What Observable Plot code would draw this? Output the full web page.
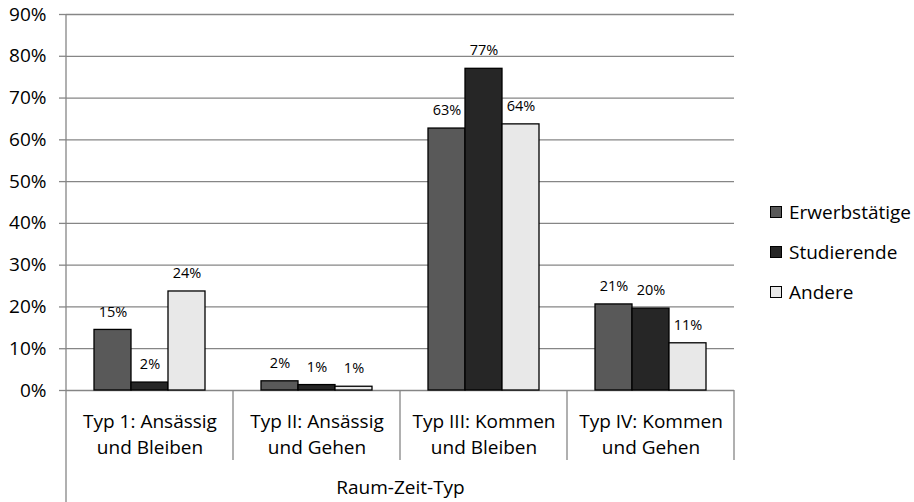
<!DOCTYPE html>
<html><head><meta charset="utf-8">
<script src="https://cdn.jsdelivr.net/npm/d3@7"></script>
<script src="https://cdn.jsdelivr.net/npm/@observablehq/plot@0.6"></script>
<style>
body{margin:0;background:#fff;font-family:"Open Sans", sans-serif;}
#wrap{position:relative;width:914px;height:502px;}
#legend{position:absolute;left:770px;top:192px;font-size:19px;color:#000;}
.item{display:flex;align-items:center;height:40px;}
.sw{width:10px;height:10px;border:1px solid #000;margin-right:7px;}
</style></head><body><div id="wrap"></div>
<script>
const categories = ["Typ 1: Ansässig\nund Bleiben", "Typ II: Ansässig\nund Gehen", "Typ III: Kommen\nund Bleiben", "Typ IV: Kommen\nund Gehen"];
const series = ["Erwerbstätige", "Studierende", "Andere"];
const erwerbstaetige = [14.5, 2.2, 62.7, 20.6];
const studierende = [1.9, 1.3, 77.0, 19.6];
const andere = [23.7, 0.9, 63.7, 11.3];
const colors = ["#595959", "#262626", "#e8e8e8"];
const yTicks = [0, 10, 20, 30, 40, 50, 60, 70, 80, 90];

const values = [erwerbstaetige, studierende, andere];
const rows = [];
categories.forEach((c, i) => series.forEach((s, j) => rows.push({cat: c, series: s, value: values[j][i]})));

const plot = Plot.plot({
  width: 914, height: 502,
  marginLeft: 65, marginRight: 179, marginTop: 14, marginBottom: 112,
  style: {fontFamily: "'Open Sans', sans-serif", fontSize: "19px", color: "#000", background: "white"},
  fx: {domain: categories, padding: 0, label: null},
  x: {domain: series, paddingInner: 0, paddingOuter: 0.74, axis: null},
  y: {domain: [0, 90], axis: null},
  color: {domain: series, range: colors},
  marks: [
    Plot.gridY(yTicks, {stroke: "#868686", strokeOpacity: 1, strokeWidth: 1.3}),
    Plot.axisY(yTicks, {tickFormat: d => d + "%", tickSize: 7, tickPadding: 13, stroke: "#868686", strokeWidth: 1.3, fill: "#000", fontSize: 19, label: null}),
    Plot.barY(rows, {fx: "cat", x: "series", y: "value", fill: "series", stroke: "#000", strokeWidth: 1.3}),
    Plot.text(rows, {fx: "cat", x: "series", y: "value", text: d => Math.round(d.value) + "%", dy: -18, fontSize: 14.5, fill: "#000"}),
    Plot.axisFx({anchor: "bottom", tickSize: 0, tickPadding: 19, lineHeight: 1.37, fontSize: 19, fill: "#000", label: "Raum-Zeit-Typ", labelAnchor: "center", labelOffset: 103})
  ]
});

const fx = plot.scale("fx"), y = plot.scale("y");
const g = d3.select(plot).append("g").attr("stroke", "#868686").attr("stroke-width", 1.3);
const y0 = y.apply(0), yTop = y.apply(90);
categories.forEach(c => {
  const xr = fx.apply(c) + fx.bandwidth;
  g.append("line").attr("x1", xr).attr("x2", xr).attr("y1", y0).attr("y2", y0 + 70);
});
const xl = fx.apply(categories[0]);
g.append("line").attr("x1", xl).attr("x2", xl).attr("y1", yTop).attr("y2", 502);

const wrap = document.getElementById("wrap");
wrap.appendChild(plot);
const legend = document.createElement("div");
legend.id = "legend";
series.forEach((s, i) => {
  const it = document.createElement("div"); it.className = "item";
  const sw = document.createElement("span"); sw.className = "sw"; sw.style.background = colors[i];
  const t = document.createElement("span"); t.textContent = s;
  it.appendChild(sw); it.appendChild(t); legend.appendChild(it);
});
wrap.appendChild(legend);
</script></body></html>
